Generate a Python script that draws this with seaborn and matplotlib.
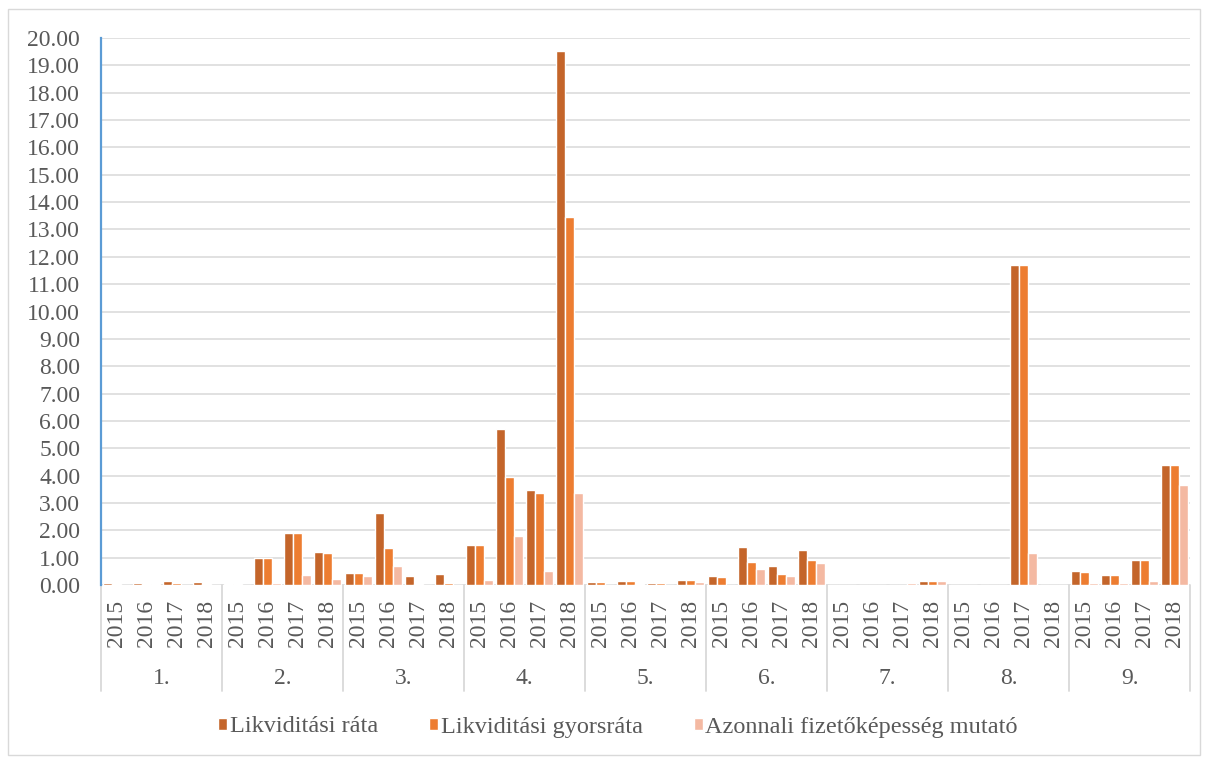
import matplotlib
matplotlib.use("Agg")
import matplotlib.pyplot as plt
import matplotlib.transforms as mtransforms
from matplotlib.patches import Rectangle
from matplotlib.ticker import FormatStrFormatter
import seaborn as sns
import pandas as pd

# ---- data -------------------------------------------------------------
groups = ["1.", "2.", "3.", "4.", "5.", "6.", "7.", "8.", "9."]
years = ["2015", "2016", "2017", "2018"]
series = ["Likviditási ráta", "Likviditási gyorsráta",
          "Azonnali fizetőképesség mutató"]

likviditasi_rata = [
    0.07, 0.07, 0.13, 0.10,
    0.04, 1.00, 1.90, 1.20,
    0.44, 2.62, 0.32, 0.41,
    1.46, 5.72, 3.48, 19.53,
    0.11, 0.15, 0.09, 0.17,
    0.32, 1.38, 0.71, 1.27,
    0.00, 0.00, 0.00, 0.16,
    0.00, 0.00, 11.71, 0.00,
    0.51, 0.38, 0.90, 4.39,
]
gyorsrata = [
    0.04, 0.03, 0.06, 0.05,
    0.04, 0.98, 1.89, 1.17,
    0.44, 1.35, 0.03, 0.06,
    1.46, 3.95, 3.38, 13.47,
    0.11, 0.13, 0.06, 0.17,
    0.29, 0.83, 0.39, 0.93,
    0.00, 0.00, 0.00, 0.16,
    0.00, 0.00, 11.71, 0.00,
    0.48, 0.38, 0.90, 4.39,
]
azonnali = [
    0.01, 0.02, 0.00, 0.00,
    0.00, 0.06, 0.38, 0.21,
    0.34, 0.71, 0.01, 0.00,
    0.20, 1.79, 0.52, 3.37,
    0.00, 0.04, 0.01, 0.11,
    0.00, 0.57, 0.33, 0.80,
    0.00, 0.00, 0.09, 0.13,
    0.00, 0.00, 1.18, 0.00,
    0.06, 0.07, 0.15, 3.66,
]

colors = ["#C4652A", "#ED7D31", "#F4B9A2"]
text_color = "#595959"
grid_color = "#D9D9D9"

# ---- long-form table ---------------------------------------------------
cats = [f"{g}|{y}" for g in groups for y in years]
rows = []
for name, vals in zip(series, [likviditasi_rata, gyorsrata, azonnali]):
    for c, v in zip(cats, vals):
        rows.append({"cat": c, "series": name, "value": v})
df = pd.DataFrame(rows)

# ---- figure ------------------------------------------------------------
sns.set_theme(style="white")
plt.rcParams["font.family"] = ["Liberation Serif", "DejaVu Serif"]

fig = plt.figure(figsize=(12.08, 7.57), dpi=100)
ax = fig.add_axes([101 / 1208, 1 - 585 / 757, (1190 - 101) / 1208,
                   (585 - 38) / 757])

# outer chart frame
fig.patches.append(Rectangle((8 / 1208, 0.002), (1200 - 8) / 1208,
                             1 - 9 / 757 - 0.002, transform=fig.transFigure,
                             fill=False, edgecolor=grid_color, linewidth=1.0))

sns.barplot(data=df, x="cat", y="value", hue="series", order=cats,
            hue_order=series, palette=colors, width=0.9, ax=ax,
            edgecolor="white", linewidth=1.0, errorbar=None, saturation=1)

ax.set_ylim(0, 20)
ax.set_xlim(-0.5, len(cats) - 0.5)
ax.set_yticks(range(0, 21))
ax.yaxis.set_major_formatter(FormatStrFormatter("%.2f"))
ax.tick_params(axis="y", length=0, pad=15, labelsize=17,
               labelcolor=text_color)
ax.yaxis.grid(True, color=grid_color, linewidth=1.1)
ax.set_axisbelow(True)
for side in ["top", "right", "bottom"]:
    ax.spines[side].set_visible(False)
ax.spines["left"].set_color("#5B9BD5")
ax.spines["left"].set_linewidth(1.6)
ax.set_xlabel("")
ax.set_ylabel("")

# two-level category axis: years, then group numbers
ax.set_xticks(range(len(cats)))
ax.set_xticklabels([])
ax.tick_params(axis="x", length=0)
trans = mtransforms.blended_transform_factory(ax.transData, ax.transAxes)
px = 1.0 / (585 - 38)
for i, c in enumerate(cats):
    ax.text(i, -(623 - 585) * px, c.split("|")[1], rotation=90,
            ha="center", va="center", fontsize=17, color=text_color,
            transform=trans)
for gi, g in enumerate(groups):
    ax.text(gi * len(years) + (len(years) - 1) / 2, -(678 - 585) * px, g,
            ha="center", va="center", fontsize=17, color=text_color,
            transform=trans)
for b in range(len(groups) + 1):
    xb = b * len(years) - 0.5
    ax.plot([xb, xb], [0, -(691 - 585) * px], color=grid_color,
            linewidth=1.3, transform=trans, clip_on=False)

# legend below the category axis
handles, labels = ax.get_legend_handles_labels()
ax.legend(handles, labels, loc="center", ncol=3, frameon=False,
          bbox_to_anchor=(618 / 1208, 1 - 727 / 757),
          bbox_transform=fig.transFigure, fontsize=17.5,
          handlelength=0.38, handleheight=0.38, handletextpad=0.1,
          columnspacing=2.1, labelcolor=text_color)

fig.savefig("out.png", dpi=100)
